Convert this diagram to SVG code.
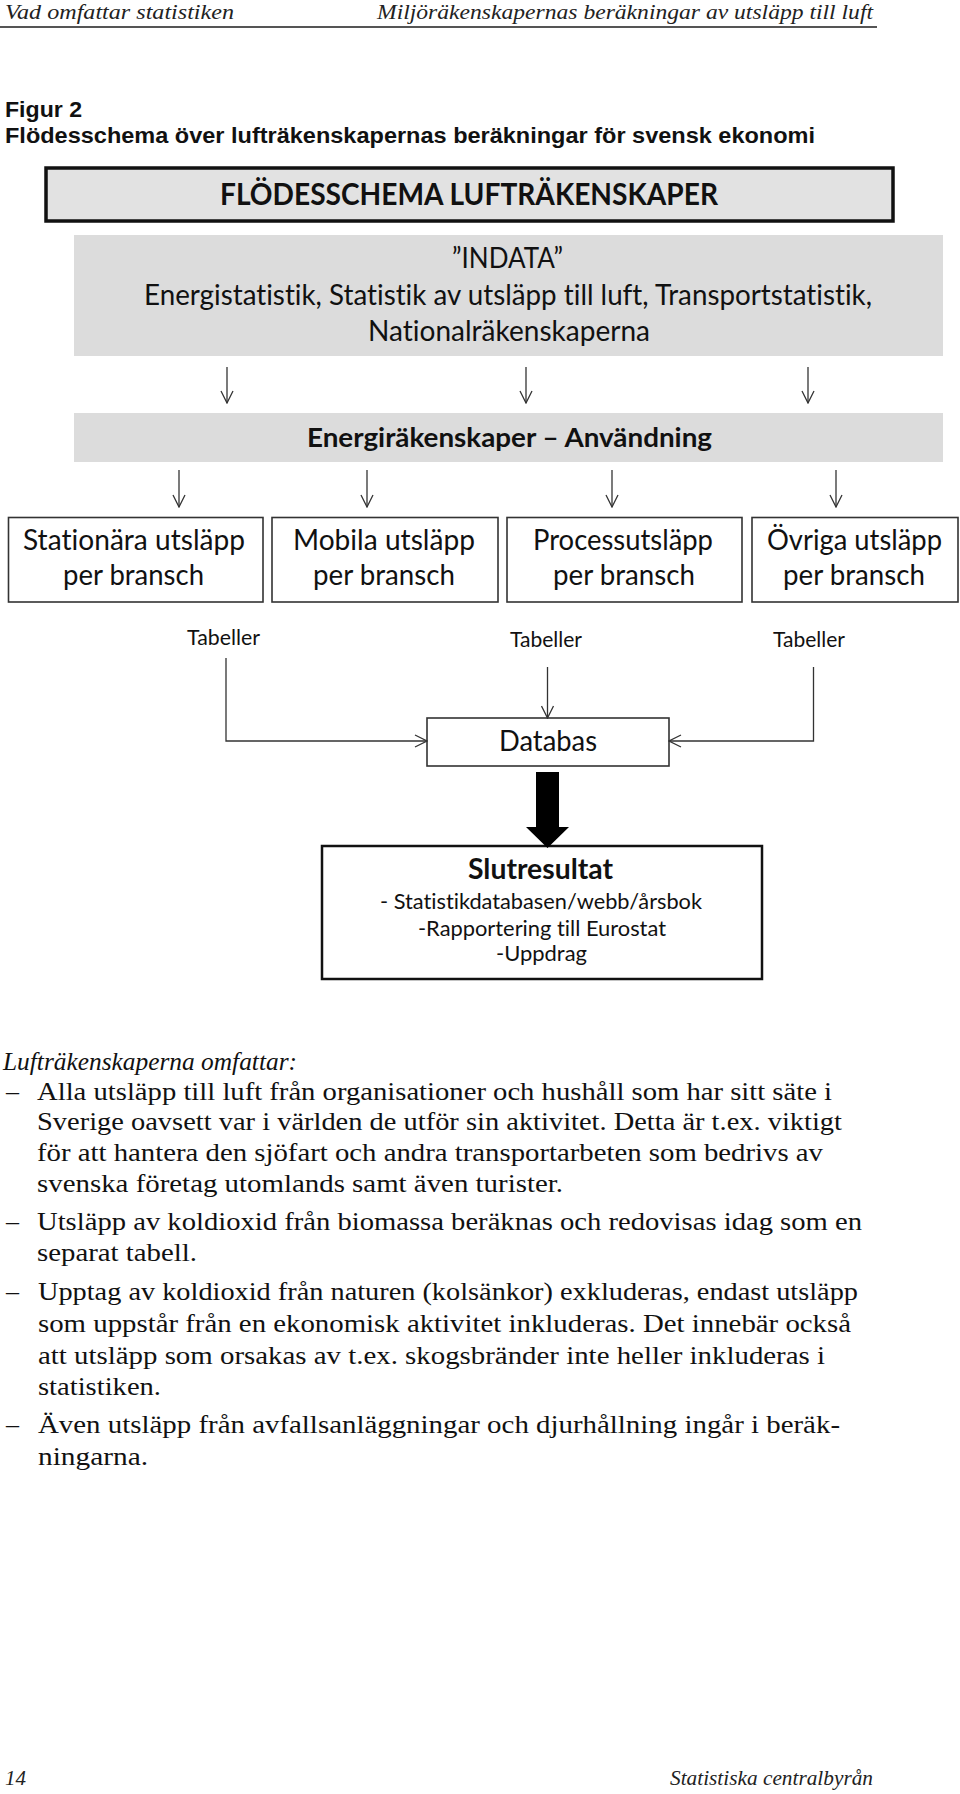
<svg xmlns="http://www.w3.org/2000/svg" width="960" height="1794" viewBox="0 0 960 1794">
<style>
.hdr{font-family:"Liberation Serif",serif;font-style:italic;font-size:21px;fill:#222}
.fig{font-family:"Liberation Sans",Arial,sans-serif;font-weight:bold;font-size:22px;fill:#111}
.dg{font-family:Lato,"Open Sans",sans-serif;fill:#111;font-variant-ligatures:none;font-feature-settings:"liga" 0}
.b{font-weight:bold}
.body{font-family:"Liberation Serif",serif;font-size:26px;fill:#111}
.it{font-style:italic}
.box{fill:#fff;stroke:#333;stroke-width:1.6}
.conn{fill:none;stroke:#333;stroke-width:1.3}
</style>
<defs>
<marker id="open" viewBox="0 0 14 14" refX="13" refY="7" markerWidth="14" markerHeight="14" markerUnits="userSpaceOnUse" orient="auto">
<path d="M1,1 L13,7 L1,13" fill="none" stroke="#333" stroke-width="1.3"/>
</marker>
</defs>
<rect width="960" height="1794" fill="#fff"/>

<g id="header">
<text class="hdr" x="5" y="19" textLength="229" lengthAdjust="spacingAndGlyphs">Vad omfattar statistiken</text>
<text class="hdr" x="377" y="19" textLength="496" lengthAdjust="spacingAndGlyphs">Miljöräkenskapernas beräkningar av utsläpp till luft</text>
<line x1="0" y1="27" x2="877" y2="27" stroke="#555" stroke-width="2"/>
</g>

<g id="figtitle">
<text class="fig" x="5" y="117" textLength="77" lengthAdjust="spacingAndGlyphs">Figur 2</text>
<text class="fig" x="5" y="143" textLength="810" lengthAdjust="spacingAndGlyphs">Flödesschema över lufträkenskapernas beräkningar för svensk ekonomi</text>
</g>

<g id="n-title">
<rect x="46" y="168" width="847" height="53" fill="#e2e2e2" stroke="#111" stroke-width="3.5"/>
<text class="dg b" x="220" y="205" font-size="31" textLength="498" lengthAdjust="spacingAndGlyphs">FLÖDESSCHEMA LUFTRÄKENSKAPER</text>
</g>

<g id="n-indata">
<rect x="74" y="235" width="869" height="121" fill="#dcdcdc"/>
<text class="dg" x="452" y="268" font-size="28" textLength="111" lengthAdjust="spacingAndGlyphs">”INDATA”</text>
<text class="dg" x="144" y="305" font-size="28" textLength="728" lengthAdjust="spacingAndGlyphs">Energistatistik, Statistik av utsläpp till luft, Transportstatistik,</text>
<text class="dg" x="368" y="341" font-size="28" textLength="282" lengthAdjust="spacingAndGlyphs">Nationalräkenskaperna</text>
</g>

<g id="n-energi">
<rect x="74" y="413" width="869" height="49" fill="#dcdcdc"/>
<text class="dg b" x="307" y="447" font-size="27" textLength="405" lengthAdjust="spacingAndGlyphs">Energiräkenskaper – Användning</text>
</g>

<g id="n-stationara">
<rect class="box" x="8.5" y="517.5" width="254.5" height="84.5"/>
<text class="dg" x="23" y="550" font-size="28" textLength="222" lengthAdjust="spacingAndGlyphs">Stationära utsläpp</text>
<text class="dg" x="63" y="585" font-size="28" textLength="141" lengthAdjust="spacingAndGlyphs">per bransch</text>
</g>

<g id="n-mobila">
<rect class="box" x="272" y="517.5" width="226" height="84.5"/>
<text class="dg" x="293" y="550" font-size="28" textLength="182" lengthAdjust="spacingAndGlyphs">Mobila utsläpp</text>
<text class="dg" x="313" y="585" font-size="28" textLength="142" lengthAdjust="spacingAndGlyphs">per bransch</text>
</g>

<g id="n-process">
<rect class="box" x="507" y="517.5" width="235" height="84.5"/>
<text class="dg" x="533" y="550" font-size="28" textLength="180" lengthAdjust="spacingAndGlyphs">Processutsläpp</text>
<text class="dg" x="553" y="585" font-size="28" textLength="142" lengthAdjust="spacingAndGlyphs">per bransch</text>
</g>

<g id="n-ovriga">
<rect class="box" x="752" y="517.5" width="206" height="84.5"/>
<text class="dg" x="767" y="550" font-size="28" textLength="175" lengthAdjust="spacingAndGlyphs">Övriga utsläpp</text>
<text class="dg" x="783" y="585" font-size="28" textLength="142" lengthAdjust="spacingAndGlyphs">per bransch</text>
</g>

<g id="labels">
<text class="dg" x="187" y="645" font-size="21" textLength="73" lengthAdjust="spacingAndGlyphs">Tabeller</text>
<text class="dg" x="510" y="647" font-size="21" textLength="72" lengthAdjust="spacingAndGlyphs">Tabeller</text>
<text class="dg" x="773" y="647" font-size="21" textLength="72" lengthAdjust="spacingAndGlyphs">Tabeller</text>
</g>

<g id="n-databas">
<rect class="box" x="427" y="718" width="242" height="48"/>
<text class="dg" x="499" y="751" font-size="29" textLength="98" lengthAdjust="spacingAndGlyphs">Databas</text>
</g>

<g id="n-slutresultat">
<rect x="322" y="846" width="440" height="133" fill="#fff" stroke="#111" stroke-width="2.5"/>
<text class="dg b" x="468" y="879" font-size="28" textLength="145" lengthAdjust="spacingAndGlyphs">Slutresultat</text>
<text class="dg" x="380" y="909" font-size="21" textLength="322" lengthAdjust="spacingAndGlyphs">- Statistikdatabasen/webb/årsbok</text>
<text class="dg" x="418" y="936" font-size="21" textLength="248" lengthAdjust="spacingAndGlyphs">-Rapportering till Eurostat</text>
<text class="dg" x="496" y="961" font-size="21" textLength="91" lengthAdjust="spacingAndGlyphs">-Uppdrag</text>
</g>

<g id="connectors">
<line class="conn" x1="227" y1="367" x2="227" y2="403" marker-end="url(#open)"/>
<line class="conn" x1="526" y1="367" x2="526" y2="403" marker-end="url(#open)"/>
<line class="conn" x1="808" y1="367" x2="808" y2="403" marker-end="url(#open)"/>
<line class="conn" x1="179" y1="470" x2="179" y2="507" marker-end="url(#open)"/>
<line class="conn" x1="367" y1="470" x2="367" y2="507" marker-end="url(#open)"/>
<line class="conn" x1="612" y1="470" x2="612" y2="507" marker-end="url(#open)"/>
<line class="conn" x1="836" y1="470" x2="836" y2="507" marker-end="url(#open)"/>
<polyline class="conn" points="226,658 226,741 427,741" marker-end="url(#open)"/>
<line class="conn" x1="547.5" y1="667" x2="547.5" y2="718" marker-end="url(#open)"/>
<polyline class="conn" points="813.5,667 813.5,741 669,741" stroke="#555" stroke-width="1.8" marker-end="url(#open)"/>
<polygon points="536,772 559,772 559,827 569,827 547.5,848 526,827 536,827" fill="#000"/>
</g>

<g id="bodytext">
<text class="body it" x="3" y="1070" textLength="294" lengthAdjust="spacingAndGlyphs">Lufträkenskaperna omfattar:</text>
<text class="body" x="6" y="1100">–</text>
<text class="body" x="37" y="1100" textLength="795" lengthAdjust="spacingAndGlyphs">Alla utsläpp till luft från organisationer och hushåll som har sitt säte i</text>
<text class="body" x="37" y="1130" textLength="805" lengthAdjust="spacingAndGlyphs">Sverige oavsett var i världen de utför sin aktivitet. Detta är t.ex. viktigt</text>
<text class="body" x="37" y="1161" textLength="786" lengthAdjust="spacingAndGlyphs">för att hantera den sjöfart och andra transportarbeten som bedrivs av</text>
<text class="body" x="37" y="1192" textLength="526" lengthAdjust="spacingAndGlyphs">svenska företag utomlands samt även turister.</text>
<text class="body" x="6" y="1230">–</text>
<text class="body" x="37" y="1230" textLength="825" lengthAdjust="spacingAndGlyphs">Utsläpp av koldioxid från biomassa beräknas och redovisas idag som en</text>
<text class="body" x="37" y="1261" textLength="160" lengthAdjust="spacingAndGlyphs">separat tabell.</text>
<text class="body" x="6" y="1300">–</text>
<text class="body" x="38" y="1300" textLength="820" lengthAdjust="spacingAndGlyphs">Upptag av koldioxid från naturen (kolsänkor) exkluderas, endast utsläpp</text>
<text class="body" x="38" y="1332" textLength="813" lengthAdjust="spacingAndGlyphs">som uppstår från en ekonomisk aktivitet inkluderas. Det innebär också</text>
<text class="body" x="38" y="1364" textLength="787" lengthAdjust="spacingAndGlyphs">att utsläpp som orsakas av t.ex. skogsbränder inte heller inkluderas i</text>
<text class="body" x="38" y="1395" textLength="123" lengthAdjust="spacingAndGlyphs">statistiken.</text>
<text class="body" x="6" y="1433">–</text>
<text class="body" x="38" y="1433" textLength="802" lengthAdjust="spacingAndGlyphs">Även utsläpp från avfallsanläggningar och djurhållning ingår i beräk-</text>
<text class="body" x="38" y="1465" textLength="110" lengthAdjust="spacingAndGlyphs">ningarna.</text>
</g>

<g id="footer">
<text class="hdr" x="5" y="1785" textLength="21" lengthAdjust="spacingAndGlyphs">14</text>
<text class="hdr" x="670" y="1785" textLength="203" lengthAdjust="spacingAndGlyphs">Statistiska centralbyrån</text>
</g>
</svg>
